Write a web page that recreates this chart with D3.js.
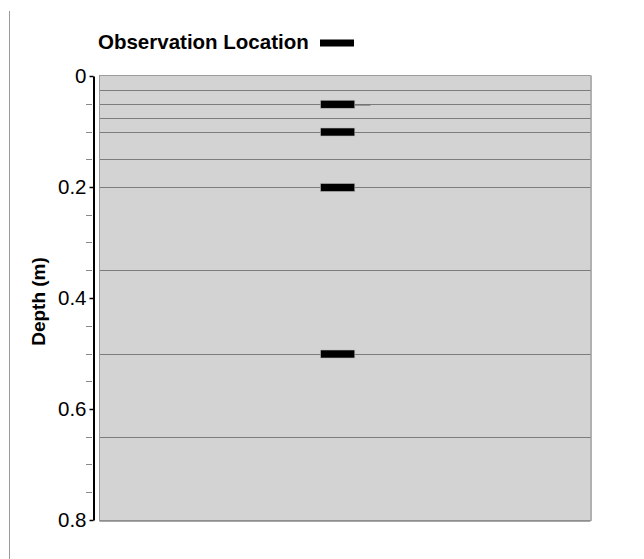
<!DOCTYPE html>
<html>
<head>
<meta charset="utf-8">
<script src="https://cdn.jsdelivr.net/npm/d3@7/dist/d3.min.js"></script>
<style>
  html, body { margin: 0; padding: 0; background: #fff; }
  svg { display: block; font-family: "Liberation Sans", Arial, Helvetica, sans-serif; }
</style>
</head>
<body>
<svg id="chart" width="644" height="559"></svg>
<script>
// Layer boundaries (depth, m)
const layerDepths = [0.025, 0.05, 0.075, 0.1, 0.15, 0.2, 0.35, 0.5, 0.65];
// Observation depths (m)
const obsDepths = [0.05, 0.1, 0.2, 0.5];
// Horizontal extent of observation markers (relative position across column)
const obsSpan = [0.45, 0.52];
// Short lead segment next to the top observation
const leadSegment = { depth: 0.0515, from: 0.52, to: 0.552 };
// Axis ticks
const majorTicks = [0, 0.2, 0.4, 0.6, 0.8];
const minorTicks = [0.05, 0.1, 0.15, 0.25, 0.3, 0.35, 0.45, 0.5, 0.55, 0.65, 0.7, 0.75];
const depthDomain = [0, 0.8];

const svg = d3.select("#chart");
const plot = { left: 99.5, right: 590.5, top: 76, bottom: 520 };
const fontSize = 20.5;

const x = d3.scaleLinear().domain([0, 1]).range([plot.left + 0.5, plot.right - 0.5]);
const y = d3.scaleLinear().domain(depthDomain).range([plot.top, plot.bottom]);

// left page rule
svg.append("line")
  .attr("x1", 9.5).attr("x2", 9.5).attr("y1", 11).attr("y2", 559)
  .attr("stroke", "#9a9a9a").attr("stroke-width", 1);

// column background
svg.append("rect")
  .attr("x", plot.left).attr("y", plot.top - 0.5)
  .attr("width", plot.right - plot.left).attr("height", plot.bottom - plot.top + 1)
  .attr("fill", "#d3d3d3").attr("stroke", "#9c9c9c").attr("stroke-width", 1);
// right and bottom shading
svg.append("line")
  .attr("x1", plot.right + 0.5).attr("x2", plot.right + 0.5)
  .attr("y1", plot.top - 0.5).attr("y2", plot.bottom + 1)
  .attr("stroke", "#b0b0b0").attr("stroke-width", 2);
svg.append("line")
  .attr("x1", plot.left).attr("x2", plot.right)
  .attr("y1", plot.bottom + 1).attr("y2", plot.bottom + 1)
  .attr("stroke", "#8a8a8a").attr("stroke-width", 1.5);

// layer boundaries
svg.append("g").selectAll("line")
  .data(layerDepths).join("line")
  .attr("x1", plot.left + 0.5).attr("x2", plot.right)
  .attr("y1", d => Math.round(y(d)) + 0.5).attr("y2", d => Math.round(y(d)) + 0.5)
  .attr("stroke", "#7c7c7c").attr("stroke-width", 1);

// lead segment
svg.append("line")
  .attr("x1", x(leadSegment.from)).attr("x2", x(leadSegment.to))
  .attr("y1", y(leadSegment.depth) + 0.5).attr("y2", y(leadSegment.depth) + 0.5)
  .attr("stroke", "#6a6a6a").attr("stroke-width", 1);

// observation markers
const markerH = 8;
svg.append("g").selectAll("rect")
  .data(obsDepths).join("rect")
  .attr("x", x(obsSpan[0])).attr("width", x(obsSpan[1]) - x(obsSpan[0]))
  .attr("y", d => y(d) - markerH / 2 + 0.5).attr("height", markerH)
  .attr("fill", "#000").attr("stroke", "#b8b8b8").attr("stroke-width", 0.6);

// depth axis
const axisX = 93.5;
const yAxis = d3.axisLeft(y)
  .tickValues(majorTicks)
  .tickFormat(d => String(d))
  .tickSizeInner(4).tickSizeOuter(0).tickPadding(3);
const gAxis = svg.append("g").attr("transform", `translate(${axisX},0)`).call(yAxis);
gAxis.select(".domain").attr("stroke", "#000").attr("stroke-width", 2);
gAxis.selectAll(".tick line").attr("stroke", "#000").attr("stroke-width", 1.5);
gAxis.selectAll(".tick text")
  .attr("font-size", fontSize).attr("fill", "#000")
  .attr("font-family", "'Liberation Sans', Arial, sans-serif");

// minor ticks
svg.append("g").selectAll("line")
  .data(minorTicks).join("line")
  .attr("x1", axisX - 7.5).attr("x2", axisX - 1.5)
  .attr("y1", d => Math.round(y(d)) + 0.5).attr("y2", d => Math.round(y(d)) + 0.5)
  .attr("stroke", "#8a8a8a").attr("stroke-width", 1);

// axis title
svg.append("text")
  .attr("transform", `translate(45,301.5) rotate(-90)`)
  .attr("text-anchor", "middle")
  .attr("font-size", 19).attr("font-weight", "bold")
  .text("Depth (m)");

// legend
svg.append("text")
  .attr("x", 98).attr("y", 49)
  .attr("font-size", fontSize).attr("font-weight", "bold")
  .text("Observation Location");
svg.append("rect")
  .attr("x", 320).attr("y", 39.5).attr("width", 34).attr("height", 7)
  .attr("fill", "#000");
</script>
</body>
</html>
